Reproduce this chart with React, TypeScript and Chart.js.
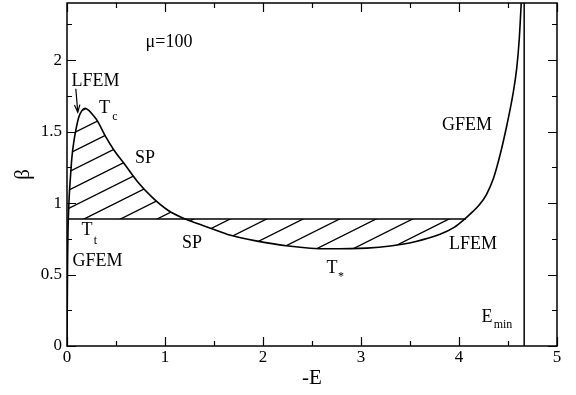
import React, { useEffect, useRef } from "react";
import { Chart, registerables } from "chart.js";

Chart.register(...registerables);

// ---- data ----
const CURVE_E = [
  0, 0.003, 0.006, 0.01, 0.015, 0.022, 0.035, 0.05, 0.07, 0.09, 0.12, 0.15, 0.184, 0.22, 0.26,
  0.31, 0.39, 0.48, 0.59, 0.72, 0.87, 1.03, 1.2, 1.36, 1.5, 1.66, 1.94, 2.26, 2.65, 3.06, 3.3,
  3.55, 3.8, 3.95, 4.06, 4.14, 4.21, 4.28, 4.35, 4.42, 4.49, 4.55, 4.59, 4.615, 4.635, 4.65,
];
const CURVE_BETA = [
  0, 0.3, 0.6, 0.8, 0.92, 1.04, 1.18, 1.32, 1.43, 1.51, 1.6, 1.645, 1.664, 1.65, 1.62,
  1.575, 1.47, 1.37, 1.27, 1.15, 1.04, 0.95, 0.89, 0.85, 0.815, 0.776, 0.734, 0.7, 0.68, 0.685, 0.7,
  0.73, 0.78, 0.83, 0.89, 0.94, 0.99, 1.06, 1.17, 1.34, 1.55, 1.76, 1.95, 2.15, 2.4, 2.6,
];
const BETA_T = 0.888; // coexistence (tie) line
const TIE_LINE_E = [0.013, 4.07];
const E_MIN = 4.665;

const X_RANGE = [0, 5];
const Y_RANGE = [0, 2.4];
const X_TICK_LABELS = ["0", "1", "2", "3", "4", "5"];
const Y_TICK_LABELS = ["0", "0.5", "1", "1.5", "2"];

// text annotations: [text, E, beta, fontSize]
const NOTES: [string, number, number, number][] = [
  ["μ=100", 1.041, 2.091, 18],
  ["LFEM", 0.291, 1.818, 18],
  ["T", 0.383, 1.629, 18],
  ["c", 0.49, 1.58, 12],
  ["SP", 0.796, 1.28, 18],
  ["T", 0.204, 0.776, 18],
  ["t", 0.291, 0.713, 12],
  ["GFEM", 0.311, 0.559, 18],
  ["SP", 1.276, 0.685, 18],
  ["T", 2.704, 0.51, 18],
  ["*", 2.796, 0.462, 12],
  ["GFEM", 4.082, 1.51, 18],
  ["LFEM", 4.143, 0.678, 18],
  ["E", 4.286, 0.168, 18],
  ["min", 4.449, 0.126, 12],
];
const ARROW = { from: [0.09, 1.8], to: [0.11, 1.635] };

// ---- styles ----
const FONT = '"Liberation Serif", "Times New Roman", serif';
const HATCH_ANCHOR_E = 1.663;
const HATCH_GAP_PX = 36.5;
const HATCH_SLOPE = 0.5;

const decor = {
  id: "decor",
  beforeDatasetsDraw(chart: any) {
    const { ctx, chartArea: a, scales } = chart;
    const px = (v: number) => scales.x.getPixelForValue(v);
    const py = (v: number) => scales.y.getPixelForValue(v);
    const [xl, xr] = TIE_LINE_E;
    ctx.save();
    ctx.beginPath();
    ctx.rect(a.left, a.top, a.right - a.left, a.bottom - a.top);
    ctx.clip();
    ctx.beginPath();
    ctx.moveTo(px(xl), py(BETA_T));
    for (let i = 0; i < CURVE_E.length; i++) {
      if (CURVE_E[i] > xl && CURVE_E[i] < xr) ctx.lineTo(px(CURVE_E[i]), py(CURVE_BETA[i]));
    }
    ctx.lineTo(px(xr), py(BETA_T));
    ctx.closePath();
    ctx.clip();
    const yh = py(BETA_T);
    const xa = px(HATCH_ANCHOR_E);
    ctx.strokeStyle = "#000";
    ctx.lineWidth = 1.3;
    ctx.beginPath();
    for (let k = -20; k <= 20; k++) {
      const xk = xa + k * HATCH_GAP_PX;
      ctx.moveTo(xk - 300, yh + 300 * HATCH_SLOPE);
      ctx.lineTo(xk + 300, yh - 300 * HATCH_SLOPE);
    }
    ctx.stroke();
    ctx.restore();
  },
  afterDatasetsDraw(chart: any) {
    const { ctx, chartArea: a, scales } = chart;
    const sx = scales.x;
    const sy = scales.y;
    ctx.save();
    ctx.strokeStyle = "#000";
    ctx.lineWidth = 1.5;
    ctx.strokeRect(a.left, a.top, a.right - a.left, a.bottom - a.top);
    ctx.lineWidth = 1.2;
    const major = 9;
    const minor = 5;
    const xs = sx.options.ticks.stepSize;
    ctx.beginPath();
    for (let v = sx.min; v <= sx.max + 1e-9; v += xs / 2) {
      const isMajor = Math.abs(v / xs - Math.round(v / xs)) < 1e-6;
      const len = isMajor ? major : minor;
      const p = Math.round(sx.getPixelForValue(v)) + 0.5;
      ctx.moveTo(p, a.bottom);
      ctx.lineTo(p, a.bottom - len);
      ctx.moveTo(p, a.top);
      ctx.lineTo(p, a.top + len);
    }
    const ys = sy.options.ticks.stepSize;
    for (let v = sy.min; v <= sy.max + 1e-9; v += ys / 2) {
      const isMajor = Math.abs(v / ys - Math.round(v / ys)) < 1e-6;
      const len = isMajor ? major : minor;
      const p = Math.round(sy.getPixelForValue(v)) + 0.5;
      ctx.moveTo(a.left, p);
      ctx.lineTo(a.left + len, p);
      ctx.moveTo(a.right, p);
      ctx.lineTo(a.right - len, p);
    }
    ctx.stroke();

    // arrow
    const x1 = sx.getPixelForValue(ARROW.from[0]);
    const y1 = sy.getPixelForValue(ARROW.from[1]);
    const x2 = sx.getPixelForValue(ARROW.to[0]);
    const y2 = sy.getPixelForValue(ARROW.to[1]);
    const ang = Math.atan2(y2 - y1, x2 - x1);
    ctx.lineWidth = 1.2;
    ctx.beginPath();
    ctx.moveTo(x1, y1);
    ctx.lineTo(x2, y2);
    const hl = 8;
    ctx.moveTo(x2 - hl * Math.cos(ang - 0.35), y2 - hl * Math.sin(ang - 0.35));
    ctx.lineTo(x2, y2);
    ctx.lineTo(x2 - hl * Math.cos(ang + 0.35), y2 - hl * Math.sin(ang + 0.35));
    ctx.stroke();

    // text annotations
    ctx.fillStyle = "#000";
    ctx.textAlign = "center";
    ctx.textBaseline = "alphabetic";
    for (const [t, e, b, s] of NOTES) {
      ctx.font = `${s}px ${FONT}`;
      ctx.fillText(t, sx.getPixelForValue(e), sy.getPixelForValue(b));
    }
    ctx.restore();
  },
};

export default function App() {
  const ref = useRef<HTMLCanvasElement>(null);
  useEffect(() => {
    const chart = new Chart(ref.current as HTMLCanvasElement, {
      type: "line",
      data: {
        datasets: [
          {
            data: CURVE_E.map((e, i) => ({ x: e, y: CURVE_BETA[i] })),
            borderColor: "#000",
            borderWidth: 1.6,
            pointRadius: 0,
            cubicInterpolationMode: "monotone",
            fill: false,
          },
          {
            data: TIE_LINE_E.map((e) => ({ x: e, y: BETA_T })),
            borderColor: "#000",
            borderWidth: 1.5,
            pointRadius: 0,
            fill: false,
          },
          {
            data: [
              { x: E_MIN, y: Y_RANGE[0] },
              { x: E_MIN, y: Y_RANGE[1] },
            ],
            borderColor: "#000",
            borderWidth: 1.5,
            pointRadius: 0,
            fill: false,
          },
        ],
      },
      options: {
        animation: false,
        responsive: false,
        layout: { padding: { top: 3, right: 19, left: 0, bottom: 0 } },
        plugins: { legend: { display: false }, tooltip: { enabled: false } },
        scales: {
          x: {
            type: "linear",
            min: X_RANGE[0],
            max: X_RANGE[1],
            grid: { display: false, drawTicks: false },
            border: { display: false },
            ticks: {
              stepSize: 1,
              autoSkip: false,
              maxRotation: 0,
              padding: 1,
              color: "#000",
              font: { family: FONT, size: 17 },
              callback: (v: any) => X_TICK_LABELS[Math.round(Number(v))] ?? "",
            },
            title: {
              display: true,
              text: "-E",
              color: "#000",
              font: { family: FONT, size: 21 },
              padding: { top: 0, bottom: 4 },
            },
            afterFit: (s: any) => {
              s.height = 49;
              s.paddingLeft = 0;
              s.paddingRight = 0;
            },
          },
          y: {
            type: "linear",
            min: Y_RANGE[0],
            max: Y_RANGE[1],
            grid: { display: false, drawTicks: false },
            border: { display: false },
            ticks: {
              stepSize: 0.5,
              includeBounds: false,
              autoSkip: false,
              padding: 5,
              color: "#000",
              font: { family: FONT, size: 17 },
              callback: (v: any) => Y_TICK_LABELS[Math.round(Number(v) * 2)] ?? "",
            },
            title: {
              display: true,
              text: "β",
              color: "#000",
              font: { family: FONT, size: 21 },
              padding: { top: 11, bottom: 0 },
            },
            afterFit: (s: any) => {
              s.width = 67;
              s.paddingTop = 0;
              s.paddingBottom = 0;
            },
          },
        },
      },
      plugins: [decor],
    } as any);
    return () => chart.destroy();
  }, []);
  return (
    <div style={{ position: "absolute", left: 0, top: 0, width: 576, height: 395, background: "#fff" }}>
      <canvas ref={ref} width={576} height={395} style={{ display: "block", width: 576, height: 395 }} />
    </div>
  );
}
